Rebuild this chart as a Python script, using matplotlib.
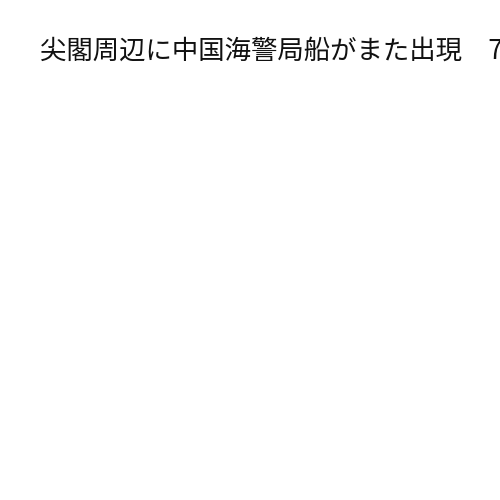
import matplotlib
matplotlib.use('Agg')
import matplotlib.pyplot as plt

# Title only, the chart body is empty
title_text = '尖閣周辺に中国海警局船がまた出現　7'

plt.rcParams['font.family'] = ['Noto Sans CJK JP', 'DejaVu Sans']

fig = plt.figure(figsize=(5, 5), dpi=100)
fig.patch.set_facecolor('white')

# title sits near the top left and runs off the right edge
fig.text(40 / 500, 1 - 51 / 500, title_text, fontsize=19, color='#111111',
         ha='left', va='center')

fig.savefig('out.png', dpi=100, facecolor='white')
